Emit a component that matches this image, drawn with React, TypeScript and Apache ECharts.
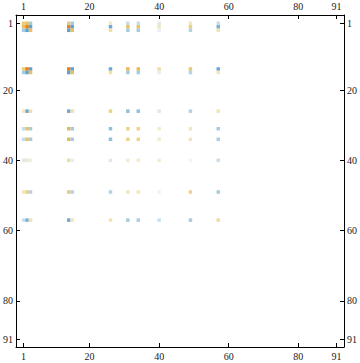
import React, { useEffect, useRef } from "react";
import * as echarts from "echarts";

// Indices (rows and columns) holding non-zero entries
const nonZeroIndices = [1, 2, 3, 14, 15, 26, 31, 34, 40, 49, 57];

// Symmetric matrix values over nonZeroIndices (row by row)
const row1 = [0.5, 0.6, -0.45, 0.5, -0.45, 0.21, -0.28, -0.28, -0.16, 0.23, -0.26];
const row2 = [0.6, 1.0, -0.8, 1.0, -0.8, -0.75, 0.6, 0.6, 0.23, 0.45, -0.7];
const row3 = [-0.45, -0.8, 0.6, -0.8, 0.6, 0.3, -0.45, -0.45, -0.1, -0.37, 0.26];
const row14 = [0.5, 1.0, -0.8, 1.0, -0.8, -0.75, 0.65, 0.65, 0.33, 0.52, -0.75];
const row15 = [-0.45, -0.8, 0.6, -0.8, 0.6, 0.3, -0.45, -0.45, -0.12, -0.37, 0.23];
const row26 = [0.21, -0.75, 0.3, -0.75, 0.3, 0.45, -0.6, -0.6, -0.16, -0.37, 0.26];
const row31 = [-0.28, 0.6, -0.45, 0.65, -0.45, -0.6, 0.42, 0.42, 0.16, 0.23, -0.45];
const row34 = [-0.28, 0.6, -0.45, 0.65, -0.45, -0.6, 0.42, 0.42, 0.16, 0.23, -0.4];
const row40 = [-0.16, 0.23, -0.1, 0.33, -0.12, -0.16, 0.16, 0.16, 0.16, -0.07, -0.26];
const row49 = [0.23, 0.45, -0.37, 0.52, -0.37, -0.37, 0.23, 0.23, -0.07, 0.42, -0.45];
const row57 = [-0.26, -0.7, 0.26, -0.75, 0.23, 0.26, -0.45, -0.4, -0.26, -0.45, 0.33];
const matrixRows = [row1, row2, row3, row14, row15, row26, row31, row34, row40, row49, row57];

// Tick labels
const tickValues = [1, 20, 40, 60, 80, 91];

const colorStops = [
  "#4a92c8", "#5499cd", "#5ea2d2", "#78b0d4", "#8ec0dc", "#9cc6df", "#aecfe3",
  "#c0daea", "#d4e5ef", "#e8f0f4", "#ffffff", "#f6f0dc", "#f3e8c4", "#f0e0a8",
  "#eed590", "#eccb78", "#e8c060", "#e6b04a", "#ea9c34", "#ed8b22", "#f07c10",
];

export default function App() {
  const ref = useRef<HTMLDivElement>(null);
  useEffect(() => {
    if (!ref.current) return;
    const chart = echarts.init(ref.current, undefined, { renderer: "svg" });
    const data: number[][] = [];
    matrixRows.forEach((vals, r) => {
      vals.forEach((v, c) => {
        if (v !== 0) data.push([nonZeroIndices[c], nonZeroIndices[r], v]);
      });
    });
    const font = { fontFamily: "Liberation Serif", fontSize: 10, color: "#1a1a1a" };
    const lineStyle = { color: "#000", width: 1 };
    const xCommon = (pos: "bottom" | "top") => ({
      type: "value" as const,
      position: pos,
      min: -1.18,
      max: 93.18,
      splitLine: { show: false },
      axisLine: { show: true, onZero: false, lineStyle },
      axisTick: { show: true, inside: true, length: 4, customValues: tickValues, lineStyle },
      axisLabel: { show: true, margin: 4, customValues: tickValues, ...font },
    });
    const yCommon = (pos: "left" | "right") => ({
      type: "value" as const,
      position: pos,
      inverse: true,
      min: -1.36,
      max: 93.1,
      splitLine: { show: false },
      axisLine: { show: true, onZero: false, lineStyle },
      axisTick: { show: true, inside: true, length: 4, customValues: tickValues, lineStyle },
      axisLabel: { show: true, margin: 3, customValues: tickValues, ...font },
    });
    chart.setOption({
      animation: false,
      grid: { left: 13, top: 15, width: 334, height: 332, containLabel: false },
      xAxis: [xCommon("bottom"), xCommon("top")],
      yAxis: [yCommon("left"), yCommon("right")],
      visualMap: {
        type: "continuous",
        show: false,
        min: -1,
        max: 1,
        dimension: 2,
        seriesIndex: 0,
        inRange: { color: colorStops },
      },
      series: [
        {
          type: "custom",
          xAxisIndex: 0,
          yAxisIndex: 0,
          encode: { x: 0, y: 1 },
          data,
          renderItem: (params: any, api: any) => {
            const x = api.value(0);
            const y = api.value(1);
            const p0 = api.coord([x - 0.5, y - 0.5]);
            const p1 = api.coord([x + 0.5, y + 0.5]);
            return {
              type: "rect",
              shape: {
                x: Math.min(p0[0], p1[0]),
                y: Math.min(p0[1], p1[1]),
                width: Math.abs(p1[0] - p0[0]),
                height: Math.abs(p1[1] - p0[1]),
              },
              style: { fill: api.visual("color") },
            };
          },
        },
      ],
    });
    return () => chart.dispose();
  }, []);
  return (
    <div
      ref={ref}
      style={{ position: "fixed", left: 0, top: 0, width: 360, height: 363, background: "#fff" }}
    />
  );
}
